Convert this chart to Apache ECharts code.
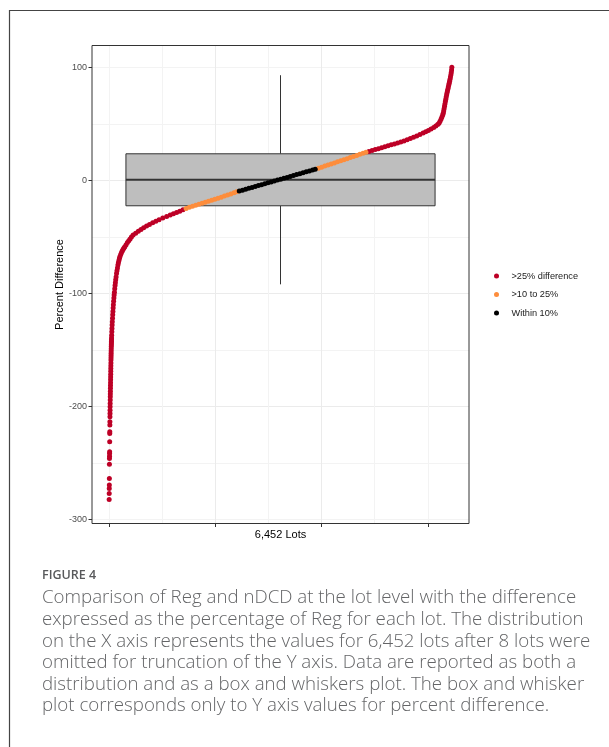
<!DOCTYPE html>
<html><head><meta charset="utf-8">
<script src="https://cdn.jsdelivr.net/npm/echarts@6/dist/echarts.min.js"></script>
<style>html,body{margin:0;padding:0;background:#fff;}#chart{width:609px;height:747px;}</style>
</head><body><div id="chart"></div>
<script>
// ---- data ----
const lotRank = [
  1,2,3,4,5,6,7,8,9,10,11,12,13,14,15,16,17,18,19,20,21,22,23,24,25,26,27,28,29,30,
  31,32,33,34,35,36,37,38,39,40,41,42,43,44,45,46,48,51,54,57,60,64,68,72,76,80,85,90,95,100,
  106,112,118,124,131,140,148,157,166,175,185,195,205,220,235,250,265,280,296,320,
  345,370,395,420,452,500,550,600,650,705,760,820,880,940,1010,1083,1150,1210,1270,1330,
  1390,1450,1510,1570,1630,1690,1750,1810,1870,1930,1990,2050,2110,2170,2230,2290,2350,2400,
  2450,2510,2570,2630,2690,2750,2810,2870,2930,2990,3050,3110,3170,3230,3290,3350,3410,3470,
  3530,3590,3650,3710,3770,3830,3880,3940,4000,4060,4120,4180,4240,4300,4360,4420,4480,4540,
  4600,4660,4720,4780,4835,4890,4950,5010,5070,5130,5190,5250,5310,5370,5430,5490,5550,5610,
  5670,5730,5790,5850,5910,5960,6010,6060,6110,6150,6185,6210,6230,6250,6265,6280,6290,6298,
  6306,6314,6322,6330,6338,6346,6354,6362,6370,6378,6386,6394,6402,6410,6418,6426,6434,6441,
  6447,6452
];
const percentDifference = [
  -282.3,-277.0,-272.6,-269.6,-263.7,-251.1,-246.0,-244.0,-241.6,-240.2,-231.3,-223.9,-222.5,-216.5,-213.6,
  -209.2,-206.2,-203.3,-200.3,-197.5,-194.4,-191.5,-189.0,-186.5,-184.0,-181.5,-179.0,-176.5,-174.0,-171.5,
  -169.0,-166.5,-164.0,-161.5,-159.0,-157.0,-155.0,-153.0,-151.0,-149.0,-147.0,-145.5,-144.0,-142.5,-141.0,
  -139.5,-137.0,-134.0,-131.0,-128.0,-125.0,-122.0,-119.0,-116.0,-113.0,-110.0,-107.0,-104.0,-101.5,-99.0,
  -96.0,-93.0,-90.5,-88.0,-85.5,-82.5,-80.0,-77.5,-75.0,-73.0,-71.0,-69.0,-67.3,-65.4,-63.7,-62.2,-60.9,-59.8,-58.7,-56.9,
  -55.1,-53.4,-51.8,-50.2,-48.4,-46.7,-45.0,-43.4,-41.9,-40.4,-39.0,-37.5,-36.1,-34.8,-33.4,-32.0,-30.7,-29.6,-28.5,-27.3,
  -26.1,-24.9,-23.9,-23.0,-22.1,-21.2,-20.3,-19.4,-18.5,-17.6,-16.7,-15.8,-14.9,-13.9,-12.9,-12.0,-11.0,-10.2,
  -9.5,-8.7,-7.9,-7.1,-6.3,-5.5,-4.6,-3.8,-3.0,-2.2,-1.4,-0.6,0.2,1.0,1.8,2.6,3.4,4.3,
  5.1,5.9,6.7,7.5,8.3,9.1,9.8,10.7,11.6,12.6,13.5,14.5,15.4,16.4,17.3,18.3,19.2,20.1,
  21.1,22.0,23.0,23.9,24.8,25.6,26.4,27.2,28.0,28.9,29.7,30.5,31.4,32.2,33.1,34.0,34.9,35.9,
  37.0,38.1,39.3,40.5,41.8,42.9,44.1,45.4,46.8,48.1,49.4,50.6,52.2,54.2,56.0,57.8,59.3,61.3,
  63.4,65.5,67.6,69.7,71.8,73.8,75.7,77.5,79.2,80.9,82.6,84.3,86.0,87.7,89.5,91.4,93.4,95.5,
  97.6,100.0
];
// box and whisker: lower whisker, Q1, median, Q3, upper whisker
const boxStats = [-92, -22.5, 0.5, 23.5, 93];
const categoryNames = ['>25% difference', '>10 to 25%', 'Within 10%'];
const categoryColors = ['#BD0026', '#FD8D3C', '#000000'];
const yTickValues = [-300, -200, -100, 0, 100];
const xTickValues = [0, 2000, 4000, 6000];
const xAxisTitle = '6,452 Lots';
const yAxisTitle = 'Percent Difference';
const captionTitle = 'FIGURE 4';
const captionLines = [
  'Comparison of Reg and nDCD at the lot level with the difference',
  'expressed as the percentage of Reg for each lot. The distribution',
  'on the X axis represents the values for 6,452 lots after 8 lots were',
  'omitted for truncation of the Y axis. Data are reported as both a',
  'distribution and as a box and whiskers plot. The box and whisker',
  'plot corresponds only to Y axis values for percent difference.'
];

// ---- build ----
const points = lotRank.map((x, i) => [x, percentDifference[i]]);
const groups = [
  points.filter(p => Math.abs(p[1]) > 25),
  points.filter(p => Math.abs(p[1]) > 10 && Math.abs(p[1]) <= 25),
  points.filter(p => Math.abs(p[1]) <= 10)
];

const X_MIN = -322, X_MAX = 6775, Y_MIN = -303.6, Y_MAX = 119.3;
const AX_FONT = 'Liberation Sans';
const MAJOR = '#EBEBEB', MINOR = '#F3F3F3', DARK = '#333333';

const chart = echarts.init(document.getElementById('chart'), null, {renderer: 'canvas'});

const scatterSeries = groups.map((g, k) => ({
  type: 'scatter', name: categoryNames[k], data: g,
  xAxisIndex: 0, yAxisIndex: 0,
  symbol: 'circle', symbolSize: 5,
  itemStyle: {color: categoryColors[k], opacity: 1},
  z: 5, silent: true, animation: false
}));

const boxSeries = {
  type: 'custom', xAxisIndex: 2, yAxisIndex: 0, z: 2, silent: true,
  data: [[0].concat(boxStats)],
  encode: {x: 0, y: [1, 2, 3, 4, 5]},
  renderItem: function (params, api) {
    const c = api.coord([0, api.value(3)]);
    const band = api.size([1, 0])[0];
    const w = band * 0.82;
    const x0 = c[0] - w / 2;
    const yLo = api.coord([0, api.value(1)])[1];
    const yQ1 = api.coord([0, api.value(2)])[1];
    const yMed = c[1];
    const yQ3 = api.coord([0, api.value(4)])[1];
    const yHi = api.coord([0, api.value(5)])[1];
    return {type: 'group', children: [
      {type: 'line', shape: {x1: c[0], y1: yHi, x2: c[0], y2: yQ3}, style: {stroke: DARK, lineWidth: 1}},
      {type: 'line', shape: {x1: c[0], y1: yQ1, x2: c[0], y2: yLo}, style: {stroke: DARK, lineWidth: 1}},
      {type: 'rect', shape: {x: x0, y: yQ3, width: w, height: yQ1 - yQ3}, style: {fill: '#BEBEBE', stroke: DARK, lineWidth: 1}},
      {type: 'line', shape: {x1: x0, y1: yMed, x2: x0 + w, y2: yMed}, style: {stroke: DARK, lineWidth: 2}}
    ]};
  }
};

const graphics = [
  {type: 'polyline', silent: true, shape: {points: [[9.5, 747], [9.5, 10.5], [609, 10.5]]},
   style: {stroke: '#444', lineWidth: 1.2, fill: null}},
  {type: 'text', x: 42, y: 575, silent: true,
   style: {text: captionTitle, fontSize: 12.5, fontWeight: 600, fontFamily: 'Open Sans', fill: '#58595B', verticalAlign: 'middle', align: 'left'}}
];
captionLines.forEach((t, i) => {
  graphics.push({type: 'text', x: 42, y: 598 + i * 21.6, silent: true,
    style: {text: t, fontSize: 18.7, fontWeight: 300, fontFamily: 'Open Sans', fill: '#646567', verticalAlign: 'middle', align: 'left'}});
});

const noLine = {show: false, onZero: false};

chart.setOption({
  animation: false,
  backgroundColor: '#ffffff',
  grid: {left: 92, top: 45.5, width: 377, height: 478, show: true, borderColor: DARK, borderWidth: 1, backgroundColor: 'transparent', containLabel: false, z: 3},
  legend: {
    data: categoryNames, orient: 'vertical', left: 489, top: 265,
    icon: 'circle', itemWidth: 20, itemHeight: 5, itemGap: 6.5,
    textStyle: {fontSize: 9.2, fontFamily: AX_FONT, color: '#1A1A1A', lineHeight: 12},
    selectedMode: false
  },
  xAxis: [
    {type: 'value', min: X_MIN, max: X_MAX, splitNumber: 7, position: 'bottom',
     axisLine: noLine, axisTick: {show: false}, axisLabel: {show: false},
     splitLine: {show: true, showMinLine: false, showMaxLine: false, lineStyle: {color: MINOR, width: 1}}},
    {type: 'value', min: X_MIN, max: X_MAX, position: 'bottom', splitNumber: 3,
     axisLine: noLine,
     axisTick: {show: true, customValues: xTickValues, length: 3.5, lineStyle: {color: DARK, width: 1}},
     axisLabel: {show: false, customValues: xTickValues},
     splitLine: {show: true, showMinLine: false, showMaxLine: false, lineStyle: {color: MAJOR, width: 1}},
     name: xAxisTitle, nameLocation: 'middle', nameGap: 6, nameMoveOverlap: false,
     nameTextStyle: {fontSize: 11, fontFamily: AX_FONT, color: '#000000', verticalAlign: 'top'}},
    {type: 'category', data: ['all'], show: false, boundaryGap: true, position: 'top', axisLine: noLine}
  ],
  yAxis: [
    {type: 'value', min: Y_MIN, max: Y_MAX, splitNumber: 8, position: 'left',
     axisLine: noLine, axisTick: {show: false}, axisLabel: {show: false},
     splitLine: {show: true, showMinLine: false, showMaxLine: false, lineStyle: {color: MINOR, width: 1}}},
    {type: 'value', min: Y_MIN, max: Y_MAX, splitNumber: 4, position: 'left',
     axisLine: noLine,
     axisTick: {show: true, customValues: yTickValues, length: 3.5, lineStyle: {color: DARK, width: 1}},
     axisLabel: {show: true, customValues: yTickValues, margin: 5, fontSize: 9, fontFamily: AX_FONT, color: '#4D4D4D'},
     splitLine: {show: true, showMinLine: false, showMaxLine: false, lineStyle: {color: MAJOR, width: 1}},
     name: yAxisTitle, nameLocation: 'middle', nameGap: 27, nameRotate: 90, nameMoveOverlap: false,
     nameTextStyle: {fontSize: 11, fontFamily: AX_FONT, color: '#000000'}}
  ],
  series: [boxSeries].concat(scatterSeries),
  graphic: graphics
});
</script>
</body></html>
